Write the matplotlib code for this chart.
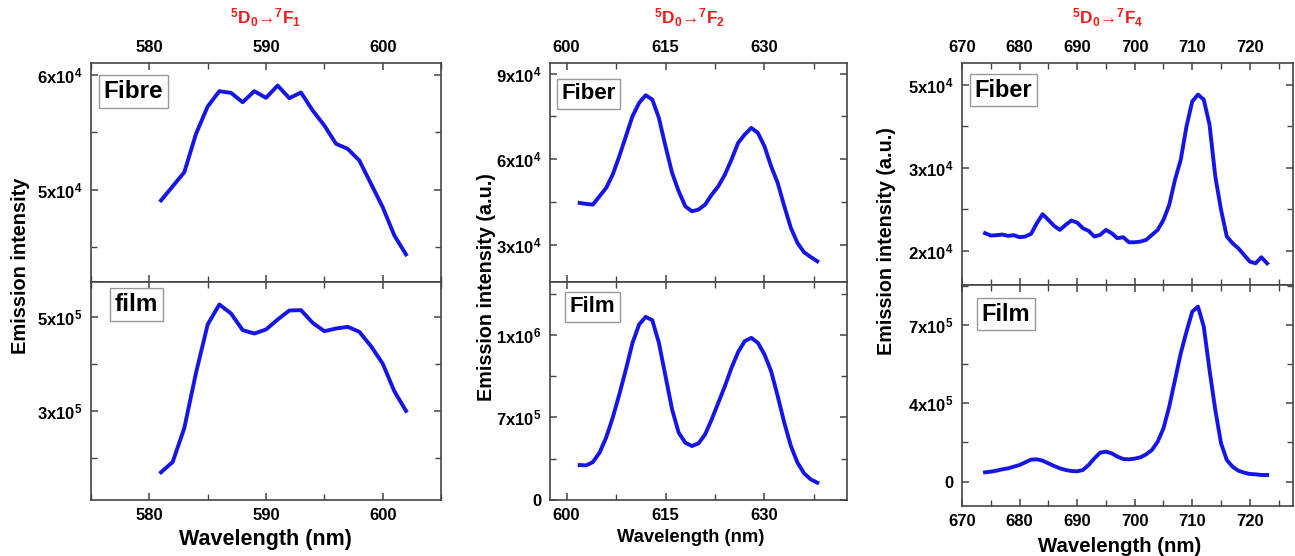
import matplotlib
matplotlib.use('Agg')
from matplotlib import pyplot as plt
from matplotlib.ticker import FixedLocator, FixedFormatter, MultipleLocator

plt.rcParams['font.family'] = ['Liberation Sans', 'DejaVu Sans']
plt.rcParams['font.weight'] = 'bold'
plt.rcParams['mathtext.default'] = 'regular'

W, H = 1295, 556

# ---- 5D0 -> 7F1 ----
wl1 = list(range(581, 603))
fibre1 = [49075, 50300, 51530, 54855, 57225, 58555, 58410, 57600, 58555, 57977, 59046,
          57948, 58440, 56880, 55580, 53990, 53555, 52543, 50520, 48500, 46040, 44390]
film1 = [169040, 191100, 263700, 381140, 484340, 527046, 507830, 472240, 465120, 473660, 495000,
         514230, 514950, 487900, 470100, 475800, 479360, 468680, 438080, 401070, 342000, 300000]

# ---- 5D0 -> 7F2 ----
wl2 = list(range(602, 639))
fibre2 = [44620, 44270, 44040, 46960, 49880, 54560, 61000, 68010, 75030, 79710, 82400, 80880,
          74440, 64500, 55150, 48710, 43450, 41700, 42280, 44040, 47540, 50470, 54560, 59820,
          65670, 68600, 70940, 69180, 64500, 57490, 51640, 43450, 35850, 30580, 27310, 25670, 24150]
film2 = [527000, 525800, 537900, 571800, 626200, 698800, 783500, 874200, 971000, 1037500, 1065300,
         1053200, 971000, 850000, 729000, 644400, 608100, 596000, 605600, 638300, 692700, 753200,
         813700, 880200, 937100, 977000, 989100, 971000, 928600, 868100, 777400, 680600, 596000,
         535500, 496800, 475000, 462900]

# ---- 5D0 -> 7F4 ----
wl3 = list(range(674, 724))
fibre3 = [22130, 21850, 21890, 21970, 21810, 21890, 21650, 21730, 22050, 23330, 24420, 23730,
          23010, 22530, 23130, 23650, 23410, 22730, 22410, 21730, 21930, 22530, 22130, 21530,
          21650, 21040, 21040, 21120, 21330, 21930, 22530, 23730, 25540, 28550, 30960, 34980,
          37990, 38800, 38190, 35180, 28960, 24940, 21730, 20920, 20320, 19520, 18710, 18510,
          19240, 18510]
film3 = [135700, 138300, 142100, 147200, 151100, 157400, 163800, 174000, 184300, 185500, 180400,
         170200, 160000, 151100, 144700, 140900, 139600, 144700, 163800, 189400, 211100, 214900,
         208500, 195700, 186800, 185500, 188100, 193200, 204700, 221300, 253200, 304300, 387200,
         489400, 591500, 674500, 751100, 770200, 693600, 527700, 374500, 246800, 183000, 157400,
         142100, 134500, 129400, 128100, 125500, 125500]

titles = [r'$^5$D$_0$→$^7$F$_1$', r'$^5$D$_0$→$^7$F$_2$', r'$^5$D$_0$→$^7$F$_4$']
ylabels = ['Emission intensity', 'Emission intensity (a.u.)', 'Emission intensity (a.u.)']
top_names = ['Fibre', 'Fiber', 'Fiber']
bot_names = ['film', 'Film', 'Film']

# y ticks (value, label) as printed on the original
yt_top = [([5e4, 6e4], ['5x10$^4$', '6x10$^4$'], [4.5e4, 5.5e4]),
          ([3e4, 6e4, 9e4], ['3x10$^4$', '6x10$^4$', '9x10$^4$'], [4.5e4, 7.5e4]),
          ([2e4, 3e4, 4e4], ['2x10$^4$', '3x10$^4$', '5x10$^4$'], [2.5e4, 3.5e4])]
yt_bot = [([3e5, 5e5], ['3x10$^5$', '5x10$^5$'], [2e5, 4e5]),
          ([4e5, 7e5, 1e6], ['0', '7x10$^5$', '1x10$^6$'], [5.5e5, 8.5e5, 1.15e6]),
          ([1e5, 4e5, 7e5], ['0', '4x10$^5$', '7x10$^5$'], [2.5e5, 5.5e5, 8.5e5])]

BLUE = '#1515e8'
SPINE = '#444444'


def add_ax(fig, left, right, top, bottom):
    return fig.add_axes([left / W, 1 - bottom / H, (right - left) / W, (bottom - top) / H])


def style(ax, labeltop):
    for s in ax.spines.values():
        s.set_color(SPINE)
        s.set_linewidth(1.2)
    ax.tick_params(which='both', direction='in', top=True, right=True, color=SPINE,
                   labelsize=12, labeltop=labeltop, labelbottom=not labeltop, pad=6)
    ax.tick_params(which='major', length=5, width=1.1)
    ax.tick_params(which='minor', length=4, width=1.0)


def set_y(ax, spec):
    ticks, labels, minors = spec
    ax.yaxis.set_major_locator(FixedLocator(ticks))
    ax.yaxis.set_major_formatter(FixedFormatter(labels))
    ax.yaxis.set_minor_locator(FixedLocator(minors))


def label_box(fig, left, top, text, fs):
    # left / top: pixel position of the framed label's box
    pad = 0.2 * fs * 100 / 72
    fig.text((left + pad) / W, 1 - (top + pad) / H, text, ha='left', va='top', fontsize=fs,
             bbox=dict(boxstyle='square,pad=0.2', fc='white', ec='#999999', lw=1))


fig = plt.figure(figsize=(W / 100, H / 100), dpi=100)

panels = [
    dict(x=wl1, top=fibre1, bot=film1, lr=(91, 441), tb=(63, 282, 500),
         xlim=(575, 605), xmaj=10, xmin=5,
         ylim_t=(4.2e4, 6.1e4), ylim_b=(1.1e5, 5.75e5)),
    dict(x=wl2, top=fibre2, bot=film2, lr=(550, 847), tb=(63, 282, 500),
         xlim=(597.5, 642.5), xmaj=15, xmin=7.5,
         ylim_t=(1.69e4, 9.37e4), ylim_b=(4e5, 1.192e6)),
    dict(x=wl3, top=fibre3, bot=film3, lr=(962, 1293), tb=(63, 285, 506),
         xlim=(670, 727.5), xmaj=10, xmin=5,
         ylim_t=(1.59e4, 4.26e4), ylim_b=(6.8e3, 8.53e5)),
]

for i, p in enumerate(panels):
    l, r = p['lr']
    t, m, b = p['tb']
    ax_t = add_ax(fig, l, r, t, m)
    ax_b = add_ax(fig, l, r, m, b)
    ax_t.plot(p['x'], p['top'], color=BLUE, lw=2.8)
    ax_b.plot(p['x'], p['bot'], color=BLUE, lw=2.8)
    for ax, top in ((ax_t, True), (ax_b, False)):
        ax.set_xlim(*p['xlim'])
        ax.xaxis.set_major_locator(MultipleLocator(p['xmaj']))
        ax.xaxis.set_minor_locator(MultipleLocator(p['xmin']))
        style(ax, top)
    ax_t.set_ylim(*p['ylim_t'])
    ax_b.set_ylim(*p['ylim_b'])
    set_y(ax_t, yt_top[i])
    set_y(ax_b, yt_bot[i])

# framed sample names
box_pos = [((99, 75), (110, 288)), ((557, 79), (565, 292)), ((970, 74), (977, 298))]
box_fs = [17.5, 16, 17]
for i, ((pt, pb), fs) in enumerate(zip(box_pos, box_fs)):
    label_box(fig, pt[0], pt[1], top_names[i], fs)
    label_box(fig, pb[0], pb[1], bot_names[i], fs)

# axis titles and labels placed like the original figure
title_x = [266, 690, 1108]
for tx, title in zip(title_x, titles):
    fig.text(tx / W, 1 - 18 / H, title, color='#f21a1a', fontsize=12.5, ha='center', va='center')

ylab = [(21, 266, 14.4), (487, 287, 14.2), (886, 241, 14.2)]
for (yx, yy, fs), lab in zip(ylab, ylabels):
    fig.text(yx / W, 1 - yy / H, lab, rotation=90, fontsize=fs, ha='center', va='center')

xlab = [(265, 540, 15.5), (691, 538, 13.2), (1120, 546, 14.7)]
for xx, xy, fs in xlab:
    fig.text(xx / W, 1 - xy / H, 'Wavelength (nm)', fontsize=fs, ha='center', va='center')

fig.savefig('out.png', dpi=100, facecolor='white')
